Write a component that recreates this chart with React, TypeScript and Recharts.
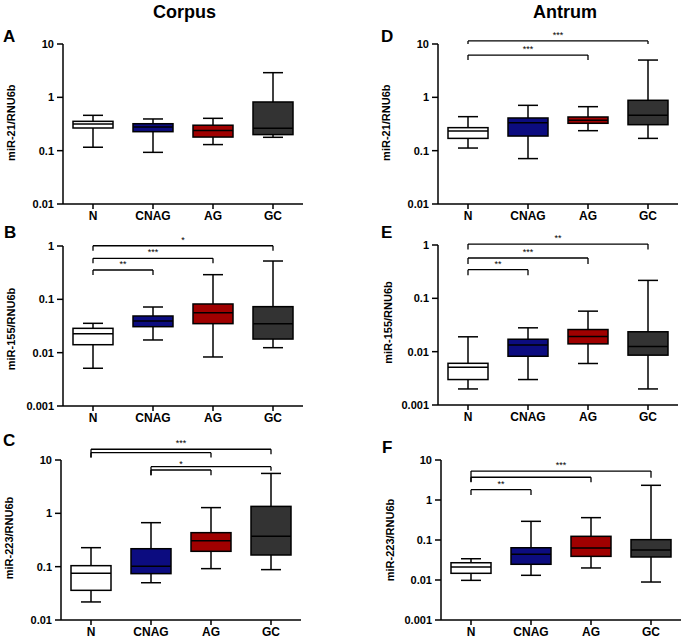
import React from "react";
import { ComposedChart, Bar, Line, XAxis, YAxis, ReferenceLine } from "recharts";

const FONT = "Arial, 'Liberation Sans', Helvetica, sans-serif";
const W = 685;
const H = 641;

const groups = ["N", "CNAG", "AG", "GC"];

// five-number summaries per group: [min, q1, median, q3, max]
const corpusMiR21 = [
  [0.116, 0.266, 0.316, 0.355, 0.46],
  [0.093, 0.227, 0.278, 0.32, 0.393],
  [0.13, 0.18, 0.24, 0.3, 0.404],
  [0.178, 0.2, 0.262, 0.818, 2.9],
];
const corpusMiR155 = [
  [0.0051, 0.0141, 0.0227, 0.0286, 0.0355],
  [0.0173, 0.0307, 0.0393, 0.0487, 0.0718],
  [0.0083, 0.035, 0.056, 0.0818, 0.29],
  [0.0124, 0.018, 0.035, 0.0729, 0.523],
];
const corpusMiR223 = [
  [0.0218, 0.036, 0.075, 0.1044, 0.227],
  [0.05, 0.074, 0.1015, 0.217, 0.668],
  [0.0918, 0.194, 0.307, 0.434, 1.28],
  [0.088, 0.1655, 0.37, 1.35, 5.6],
];
const antrumMiR21 = [
  [0.112, 0.17, 0.234, 0.27, 0.434],
  [0.071, 0.188, 0.335, 0.41, 0.708],
  [0.237, 0.326, 0.37, 0.428, 0.668],
  [0.17, 0.307, 0.46, 0.88, 5.0],
];
const antrumMiR155 = [
  [0.002, 0.003, 0.0051, 0.00605, 0.019],
  [0.003, 0.0082, 0.0134, 0.0171, 0.028],
  [0.006, 0.014, 0.0192, 0.026, 0.0575],
  [0.002, 0.0086, 0.0125, 0.0236, 0.217],
];
const antrumMiR223 = [
  [0.0098, 0.0147, 0.0211, 0.027, 0.034],
  [0.0131, 0.0247, 0.0438, 0.064, 0.293],
  [0.02, 0.039, 0.063, 0.1236, 0.362],
  [0.0089, 0.0376, 0.056, 0.102, 2.33],
];

type Bracket = { from: string; to: string; top: number; fromEnd: number; toEnd: number; label: string };

const bracketsA: Bracket[] = [];
const bracketsB: Bracket[] = [
  { from: "N", to: "GC", top: 1.01, fromEnd: 0.817, toEnd: 0.817, label: "*" },
  { from: "N", to: "AG", top: 0.588, fromEnd: 0.474, toEnd: 0.474, label: "***" },
  { from: "N", to: "CNAG", top: 0.355, fromEnd: 0.286, toEnd: 0.286, label: "**" },
];
const bracketsC: Bracket[] = [
  { from: "N", to: "GC", top: 15.9, fromEnd: 11.2, toEnd: 12.8, label: "***" },
  { from: "N", to: "AG", top: 13.7, fromEnd: 11.2, toEnd: 11.2, label: "" },
  { from: "CNAG", to: "GC", top: 7.5, fromEnd: 5.2, toEnd: 6.3, label: "" },
  { from: "CNAG", to: "AG", top: 6.5, fromEnd: 5.2, toEnd: 5.2, label: "*" },
];
const bracketsD: Bracket[] = [
  { from: "N", to: "GC", top: 11.4, fromEnd: 10, toEnd: 10, label: "***" },
  { from: "N", to: "AG", top: 6.2, fromEnd: 5.0, toEnd: 5.0, label: "***" },
];
const bracketsE: Bracket[] = [
  { from: "N", to: "GC", top: 1.04, fromEnd: 0.82, toEnd: 0.82, label: "**" },
  { from: "N", to: "AG", top: 0.57, fromEnd: 0.44, toEnd: 0.44, label: "***" },
  { from: "N", to: "CNAG", top: 0.345, fromEnd: 0.27, toEnd: 0.27, label: "**" },
];
const bracketsF: Bracket[] = [
  { from: "N", to: "GC", top: 5.3, fromEnd: 2.87, toEnd: 3.6, label: "***" },
  { from: "N", to: "AG", top: 3.7, fromEnd: 2.77, toEnd: 2.77, label: "" },
  { from: "N", to: "CNAG", top: 1.81, fromEnd: 1.33, toEnd: 1.33, label: "**" },
];

const ticks3 = [0.001, 0.01, 0.1, 1];
const ticks4 = [0.01, 0.1, 1, 10];
const ticks5 = [0.001, 0.01, 0.1, 1, 10];

const fills = ["#ffffff", "#0c0c80", "#a00000", "#333333"];

const Whisker = (p: any) => {
  const cx = p.x + p.width / 2;
  const y1 = Math.min(p.y, p.y + p.height);
  const y2 = Math.max(p.y, p.y + p.height);
  return (
    <g stroke="#000" strokeWidth={1.5}>
      <line x1={cx} x2={cx} y1={y1} y2={y2} />
      <line x1={cx - 10} x2={cx + 10} y1={y1} y2={y1} />
      <line x1={cx - 10} x2={cx + 10} y1={y2} y2={y2} />
    </g>
  );
};

const Box = (p: any) => (
  <rect
    x={p.x}
    y={Math.min(p.y, p.y + p.height)}
    width={p.width}
    height={Math.abs(p.height)}
    fill={fills[p.index]}
    stroke="#000"
    strokeWidth={1.5}
  />
);

const Median = (p: any) => (
  <line key={`m-${p.index}`} x1={p.cx - 20} x2={p.cx + 20} y1={p.cy} y2={p.cy} stroke="#000" strokeWidth={1.5} />
);

type PanelProps = {
  stats: number[][];
  brackets: Bracket[];
  domain: [number, number];
  ticks: number[];
  left: number;
  top: number;
  right: number;
  bottom: number;
};

const Panel = ({ stats, brackets, domain, ticks, left, top, right, bottom }: PanelProps) => {
  const rows = groups.map((name, i) => ({
    name,
    whisker: [stats[i][0], stats[i][4]],
    box: [stats[i][1], stats[i][3]],
    med: stats[i][2],
  }));
  const line = { stroke: "#000", strokeWidth: 1.3 };
  return (
    <div style={{ position: "absolute", left: 0, top: 0 }}>
      <ComposedChart
        width={W}
        height={H}
        data={rows}
        margin={{ top, left: left - 40, right: W - right, bottom: H - bottom - 30 }}
      >
        <XAxis xAxisId="w" dataKey="name" hide height={0} />
        <XAxis
          xAxisId="x"
          dataKey="name"
          height={30}
          interval={0}
          tickSize={5}
          tickMargin={2}
          axisLine={{ stroke: "#000", strokeWidth: 1.5 }}
          tickLine={{ stroke: "#000", strokeWidth: 1.5 }}
          tick={{ fontSize: 12, fontWeight: 700, fill: "#000", fontFamily: FONT }}
        />
        <YAxis
          type="number"
          scale="log"
          domain={domain}
          ticks={ticks}
          allowDataOverflow
          interval={0}
          width={40}
          tickSize={6}
          tickMargin={3}
          tickFormatter={(v: number) => String(v)}
          axisLine={{ stroke: "#000", strokeWidth: 1.5 }}
          tickLine={{ stroke: "#000", strokeWidth: 1.5 }}
          tick={{ fontSize: 11, fontWeight: 700, fill: "#000", fontFamily: FONT }}
        />
        <Bar xAxisId="w" dataKey="whisker" barSize={20} shape={Whisker} isAnimationActive={false} />
        <Bar xAxisId="x" dataKey="box" barSize={40} shape={Box} isAnimationActive={false} />
        <Line
          xAxisId="x"
          dataKey="med"
          stroke="none"
          dot={Median}
          activeDot={false}
          isAnimationActive={false}
        />
        {brackets.map((b, i) => (
          <ReferenceLine
            key={`h${i}`}
            xAxisId="x"
            ifOverflow="visible"
            segment={[
              { x: b.from, y: b.top },
              { x: b.to, y: b.top },
            ]}
            {...line}
            label={
              b.label
                ? { value: b.label, position: "top", offset: 3, fontSize: 9, fill: "#000", fontFamily: FONT }
                : undefined
            }
          />
        ))}
        {brackets.map((b, i) => (
          <ReferenceLine
            key={`l${i}`}
            xAxisId="x"
            ifOverflow="visible"
            segment={[
              { x: b.from, y: b.top },
              { x: b.from, y: b.fromEnd },
            ]}
            {...line}
          />
        ))}
        {brackets.map((b, i) => (
          <ReferenceLine
            key={`r${i}`}
            xAxisId="x"
            ifOverflow="visible"
            segment={[
              { x: b.to, y: b.top },
              { x: b.to, y: b.toEnd },
            ]}
            {...line}
          />
        ))}
      </ComposedChart>
    </div>
  );
};

const YLabel = ({ x, y, text }: { x: number; y: number; text: string }) => (
  <text
    x={x}
    y={y}
    transform={`rotate(-90 ${x} ${y})`}
    textAnchor="middle"
    fontSize={11}
    fontWeight={700}
    fontFamily={FONT}
    fill="#000"
  >
    {text}
  </text>
);

const Letter = ({ x, y, text }: { x: number; y: number; text: string }) => (
  <text x={x} y={y} fontSize={17} fontWeight={700} fontFamily={FONT} fill="#000">
    {text}
  </text>
);

export default function App() {
  return (
    <div style={{ position: "absolute", left: 0, top: 0, width: W, height: H, background: "#fff" }}>
      <Panel stats={corpusMiR21} brackets={bracketsA} domain={[0.01, 10]} ticks={ticks4} left={63} top={44} right={303} bottom={204} />
      <Panel stats={corpusMiR155} brackets={bracketsB} domain={[0.001, 1]} ticks={ticks3} left={63} top={246} right={303} bottom={406} />
      <Panel stats={corpusMiR223} brackets={bracketsC} domain={[0.01, 10]} ticks={ticks4} left={61} top={460} right={301} bottom={620} />
      <Panel stats={antrumMiR21} brackets={bracketsD} domain={[0.01, 10]} ticks={ticks4} left={438} top={44} right={678} bottom={204} />
      <Panel stats={antrumMiR155} brackets={bracketsE} domain={[0.001, 1]} ticks={ticks3} left={438} top={245} right={678} bottom={405} />
      <Panel stats={antrumMiR223} brackets={bracketsF} domain={[0.001, 10]} ticks={ticks5} left={441} top={460} right={681} bottom={620} />
      <svg width={W} height={H} style={{ position: "absolute", left: 0, top: 0, pointerEvents: "none" }}>
        <text x={184.5} y={17.5} textAnchor="middle" fontSize={18} fontWeight={700} fontFamily={FONT}>
          Corpus
        </text>
        <text x={565} y={17.5} textAnchor="middle" fontSize={18} fontWeight={700} fontFamily={FONT}>
          Antrum
        </text>
        <Letter x={3} y={42.3} text="A" />
        <Letter x={4} y={237.7} text="B" />
        <Letter x={3} y={445.7} text="C" />
        <Letter x={381} y={42.3} text="D" />
        <Letter x={381} y={238.3} text="E" />
        <Letter x={382} y={453.3} text="F" />
        <YLabel x={14.7} y={122.7} text="miR-21/RNU6b" />
        <YLabel x={15} y={329} text="miR-155/RNU6b" />
        <YLabel x={13.3} y={538} text="miR-223/RNU6b" />
        <YLabel x={390.5} y={122.7} text="miR-21/RNU6b" />
        <YLabel x={392} y={322.5} text="miR-155/RNU6b" />
        <YLabel x={393.7} y={540} text="miR-223/RNU6b" />
      </svg>
    </div>
  );
}
